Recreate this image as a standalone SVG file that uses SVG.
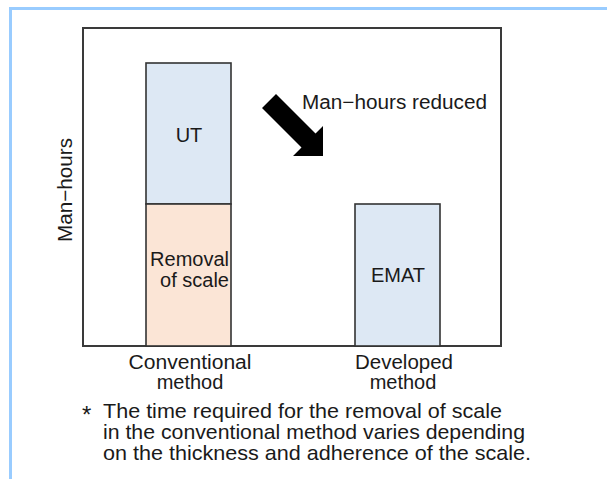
<svg xmlns="http://www.w3.org/2000/svg" width="607" height="479" viewBox="0 0 607 479">
  <style>
    .lbl { font-family: "Liberation Sans", Arial, sans-serif; font-size: 20px; fill: #1a1a1a; }
    .note { font-size: 21px; }
    .star { font-size: 24px; }
    .mid { text-anchor: middle; }
    .bar { stroke: #333333; stroke-width: 1.6; }
    .ut { fill: #dde8f4; }
    .scale { fill: #fbe5d6; }
  </style>
  <rect x="0" y="0" width="607" height="479" fill="#ffffff"/>
  <!-- page border -->
  <path d="M10.5 479 V8.5 H607" fill="none" stroke="#99ccff" stroke-width="3"/>

  <!-- chart frame -->
  <rect id="frame" x="83" y="28" width="418" height="318" fill="#ffffff" stroke="#3a3a3a" stroke-width="2"/>

  <g id="axis-label">
    <text class="lbl mid" transform="translate(72 190) rotate(-90)" textLength="104" lengthAdjust="spacingAndGlyphs">Man−hours</text>
  </g>

  <g id="bar-ut">
    <rect class="bar ut" x="146" y="63" width="85" height="141"/>
    <text class="lbl mid" x="189" y="142">UT</text>
  </g>

  <g id="bar-scale">
    <rect class="bar scale" x="146" y="204" width="85" height="142"/>
    <text class="lbl" x="229" y="266" text-anchor="end">Removal</text>
    <text class="lbl" x="229" y="287" text-anchor="end">of scale</text>
  </g>

  <g id="bar-emat">
    <rect class="bar ut" x="355" y="204" width="85" height="142"/>
    <text class="lbl mid" x="398" y="282">EMAT</text>
  </g>

  <g id="reduction">
    <polygon points="262,108 276,94 315.5,133.5 323,126 323,156 293,156 301.5,147.5" fill="#000000"/>
    <text class="lbl" x="302" y="109" textLength="185" lengthAdjust="spacingAndGlyphs">Man−hours reduced</text>
  </g>

  <g id="category-labels">
    <text class="lbl mid" x="190" y="369" textLength="123" lengthAdjust="spacingAndGlyphs">Conventional</text>
    <text class="lbl mid" x="190" y="389">method</text>
    <text class="lbl mid" x="404" y="369" textLength="98" lengthAdjust="spacingAndGlyphs">Developed</text>
    <text class="lbl mid" x="403" y="389">method</text>
  </g>

  <g id="footnote">
    <text class="lbl star" x="82" y="423">*</text>
    <text class="lbl note" x="103" y="418" textLength="399" lengthAdjust="spacingAndGlyphs">The time required for the removal of scale</text>
    <text class="lbl note" x="103" y="439" textLength="422" lengthAdjust="spacingAndGlyphs">in the conventional method varies depending</text>
    <text class="lbl note" x="103" y="460" textLength="428" lengthAdjust="spacingAndGlyphs">on the thickness and adherence of the scale.</text>
  </g>
</svg>
